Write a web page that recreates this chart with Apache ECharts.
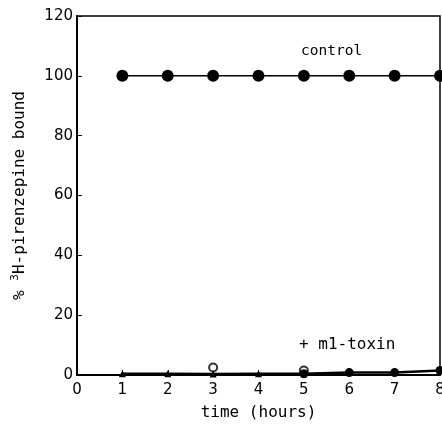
<!DOCTYPE html>
<html>
<head>
<meta charset="utf-8">
<script src="https://cdn.jsdelivr.net/npm/echarts@6/dist/echarts.min.js"></script>
<style>
  html, body { margin: 0; padding: 0; background: #fff; }
  #chart { width: 442px; height: 426px; }
</style>
</head>
<body>
<div id="chart"></div>
<script>
// Time points (hours) and binding values (% of control)
const hours = [1, 2, 3, 4, 5, 6, 7, 8];
const controlBound = [100, 100, 100, 100, 100, 100, 100, 100];
const toxinBound = [0.4, 0.4, 0.3, 0.4, 0.4, 0.8, 0.8, 1.5];
const toxinOpenHours = [3, 5];
const toxinOpenBound = [2.5, 1.5];
const xTicks = [0, 1, 2, 3, 4, 5, 6, 7, 8];
const yTicks = [0, 20, 40, 60, 80, 100, 120];

const toxinSymbols = ['triangle', 'triangle', 'triangle', 'triangle', 'circle', 'circle', 'circle', 'circle'];

const chart = echarts.init(document.getElementById('chart'));
const ink = '#000';
const monoFont = 'DejaVu Sans Mono';

chart.setOption({
  animation: false,
  backgroundColor: '#fff',
  grid: {
    left: 77, right: 2, top: 16, bottom: 51,
    outerBoundsMode: 'none', containLabel: false,
    show: true, borderColor: ink, borderWidth: 1.5, backgroundColor: 'transparent'
  },
  xAxis: {
    type: 'value', min: xTicks[0], max: xTicks[xTicks.length - 1], interval: 1,
    name: 'time (hours)', nameLocation: 'middle', nameGap: 30,
    nameTextStyle: { color: ink, fontFamily: monoFont, fontSize: 16 },
    axisLine: { show: true, lineStyle: { color: ink, width: 2 } },
    axisTick: { show: true, inside: true, length: 5, lineStyle: { color: ink } },
    axisLabel: { color: ink, fontFamily: 'DejaVu Sans', fontSize: 15, margin: 8 },
    splitLine: { show: false }
  },
  yAxis: {
    type: 'value', min: yTicks[0], max: yTicks[yTicks.length - 1], interval: 20,
    name: '{p|% }{sup|3}{p|H-pirenzepine bound}', nameLocation: 'middle', nameGap: 48, nameRotate: 90,
    nameTextStyle: {
      color: ink,
      rich: {
        p: { fontFamily: monoFont, fontSize: 16, color: ink },
        sup: { fontFamily: monoFont, fontSize: 11, color: ink, verticalAlign: 'top', padding: [0, 0, 8, 0] }
      }
    },
    axisLine: { show: true, lineStyle: { color: ink, width: 2 } },
    axisTick: { show: true, inside: true, length: 5, lineStyle: { color: ink } },
    axisLabel: { color: ink, fontFamily: 'DejaVu Sans', fontSize: 15, margin: 4 },
    splitLine: { show: false }
  },
  series: [
    {
      name: 'control', type: 'line',
      data: hours.map((h, i) => [h, controlBound[i]]),
      symbol: 'circle', symbolSize: 12,
      lineStyle: { color: ink, width: 1.5 },
      itemStyle: { color: ink },
      clip: false
    },
    {
      name: 'm1-toxin', type: 'line',
      data: hours.map((h, i) => ({ value: [h, toxinBound[i]], symbol: toxinSymbols[i], symbolSize: toxinSymbols[i] === 'triangle' ? 7 : 9 })),
      lineStyle: { color: ink, width: 2.5 },
      itemStyle: { color: ink },
      clip: false
    },
    {
      name: 'm1-toxin open', type: 'scatter',
      data: toxinOpenHours.map((h, i) => [h, toxinOpenBound[i]]),
      symbol: 'circle', symbolSize: 8,
      itemStyle: { color: '#fff', borderColor: ink, borderWidth: 2 },
      clip: false
    }
  ],
  graphic: [
    { type: 'text', left: 301, top: 44, style: { text: 'control', font: '14.5px "DejaVu Sans Mono"', fill: ink } },
    { type: 'text', left: 299, top: 337, style: { text: '+ m1-toxin', font: '16px "DejaVu Sans Mono"', fill: ink } }
  ]
});
</script>
</body>
</html>
